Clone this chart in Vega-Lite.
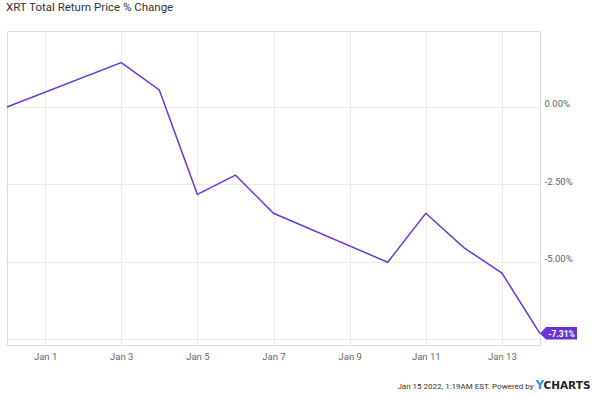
{
  "$schema": "https://vega.github.io/schema/vega-lite/v6.json",
  "autosize": "none",
  "width": 533,
  "height": 314,
  "padding": {"left": 7, "top": 31, "right": 60, "bottom": 50},
  "background": "white",
  "title": {
    "text": "XRT Total Return Price % Change",
    "anchor": "start",
    "frame": "group",
    "font": "Roboto",
    "fontSize": 11.5,
    "fontWeight": "normal",
    "color": "#333333",
    "baseline": "alphabetic",
    "offset": 8.5,
    "dx": -1
  },
  "data": {
    "values": [
      {"date": "2021-12-31", "pct": 0.0},
      {"date": "2022-01-03", "pct": 1.43},
      {"date": "2022-01-04", "pct": 0.55},
      {"date": "2022-01-05", "pct": -2.82},
      {"date": "2022-01-06", "pct": -2.2},
      {"date": "2022-01-07", "pct": -3.43},
      {"date": "2022-01-10", "pct": -5.01},
      {"date": "2022-01-11", "pct": -3.43},
      {"date": "2022-01-12", "pct": -4.54},
      {"date": "2022-01-13", "pct": -5.36},
      {"date": "2022-01-14", "pct": -7.31}
    ]
  },
  "encoding": {
    "x": {
      "field": "date",
      "type": "temporal",
      "scale": {
        "type": "utc",
        "domain": [
          {"year": 2021, "month": 12, "date": 31, "utc": true},
          {"year": 2022, "month": 1, "date": 14, "utc": true}
        ]
      },
      "axis": {
        "values": [
          {"year": 2022, "month": 1, "date": 1, "utc": true},
          {"year": 2022, "month": 1, "date": 3, "utc": true},
          {"year": 2022, "month": 1, "date": 5, "utc": true},
          {"year": 2022, "month": 1, "date": 7, "utc": true},
          {"year": 2022, "month": 1, "date": 9, "utc": true},
          {"year": 2022, "month": 1, "date": 11, "utc": true},
          {"year": 2022, "month": 1, "date": 13, "utc": true}
        ],
        "labelExpr": "utcFormat(datum.value, '%b %-d')",
        "ticks": false,
        "domain": false,
        "grid": true,
        "gridColor": "#ebebeb",
        "labelFont": "Roboto",
        "labelFontSize": 9.5,
        "labelColor": "#666666",
        "labelPadding": 6,
        "title": "Jan 15 2022, 1:19AM EST.  Powered by",
        "titleFont": "Roboto",
        "titleFontSize": 8,
        "titleFontWeight": "normal",
        "titleColor": "#333333",
        "titleAlign": "right",
        "titleAnchor": "end",
        "titleBaseline": "alphabetic",
        "titleX": 526,
        "titleY": 43
      }
    }
  },
  "resolve": {"axis": {"y": "independent"}},
  "layer": [
    {
      "mark": {"type": "line", "color": "#6b3ad6", "strokeWidth": 1.5},
      "encoding": {
        "y": {
          "field": "pct",
          "type": "quantitative",
          "scale": {"domain": [-7.68, 2.45], "nice": false, "zero": false},
          "axis": {
            "orient": "right",
            "values": [-7.5, -5, -2.5, 0],
            "labelExpr": "datum.value < -6 ? '' : (datum.value < 0 ? '-' : '') + format(abs(datum.value), '.2f') + '%'",
            "labelBaseline": "alphabetic",
            "labelFont": "Roboto",
            "labelFontSize": 9.5,
            "labelColor": "#666666",
            "labelPadding": 4,
            "ticks": false,
            "domain": false,
            "grid": true,
            "gridColor": "#ebebeb",
            "title": "Y",
            "titleAngle": 0,
            "titleAlign": "left",
            "titleBaseline": "alphabetic",
            "titleFont": "DejaVu Sans",
            "titleFontSize": 12,
            "titleFontWeight": "bold",
            "titleColor": "#2d95ec",
            "titleX": -5,
            "titleY": 357
          }
        }
      }
    },
    {
      "transform": [{"filter": "datum.pct == -7.31"}],
      "mark": {
        "type": "point",
        "shape": "M0,0L6,-6.5L37,-6.5L37,6L6,6Z",
        "size": 4,
        "filled": true,
        "opacity": 1,
        "color": "#6a34d0",
        "strokeWidth": 0
      },
      "encoding": {
        "y": {
          "field": "pct",
          "type": "quantitative",
          "scale": {"domain": [-7.68, 2.45], "nice": false, "zero": false},
          "axis": {
            "orient": "left",
            "labels": false,
            "ticks": false,
            "domain": false,
            "grid": false,
            "title": "CHARTS",
            "titleAngle": 0,
            "titleAlign": "left",
            "titleBaseline": "alphabetic",
            "titleFont": "DejaVu Sans",
            "titleFontSize": 10.5,
            "titleFontWeight": "bold",
            "titleColor": "#1f2430",
            "titleX": 536,
            "titleY": 357
          }
        }
      }
    },
    {
      "transform": [
        {"filter": "datum.pct == -7.31"},
        {"calculate": "(datum.pct < 0 ? '-' : '') + format(abs(datum.pct), '.2f') + '%'", "as": "label"}
      ],
      "mark": {
        "type": "text",
        "color": "white",
        "font": "Roboto",
        "fontSize": 8.5,
        "fontWeight": "bold",
        "align": "center",
        "baseline": "middle",
        "dx": 21.5,
        "dy": 0
      },
      "encoding": {
        "y": {
          "field": "pct",
          "type": "quantitative",
          "scale": {"domain": [-7.68, 2.45], "nice": false, "zero": false},
          "axis": null
        },
        "text": {"field": "label"}
      }
    }
  ],
  "config": {
    "view": {"stroke": "#dcdcdc", "strokeWidth": 1}
  }
}
